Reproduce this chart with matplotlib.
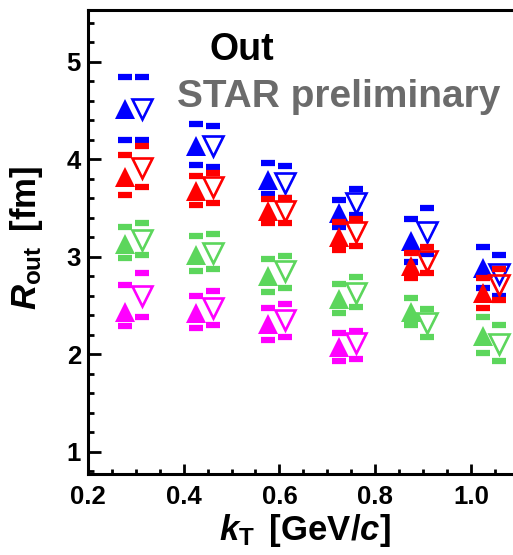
import matplotlib
matplotlib.use("Agg")
import matplotlib.pyplot as plt
from matplotlib.ticker import MultipleLocator

plt.rcParams["font.family"] = "Liberation Sans"
plt.rcParams["font.weight"] = "bold"
plt.rcParams["axes.labelweight"] = "bold"
plt.rcParams["mathtext.fontset"] = "custom"
plt.rcParams["mathtext.rm"] = "Liberation Sans:bold"
plt.rcParams["mathtext.it"] = "Liberation Sans:italic:bold"

# --- Data -----------------------------------------------------------------
kt_filled = [0.277, 0.426, 0.576, 0.725, 0.875, 1.025]
kt_open = [0.312, 0.461, 0.611, 0.760, 0.908, 1.059]

blue_filled = [4.51, 4.13, 3.79, 3.45, 3.16, 2.88]
blue_filled_hi = [4.84, 4.36, 3.96, 3.58, 3.39, 3.10]
blue_filled_lo = [4.20, 3.94, 3.64, 3.30, 2.94, 2.68]
blue_open = [4.51, 4.13, 3.76, 3.55, 3.25, 2.82]
blue_open_hi = [4.84, 4.34, 3.93, 3.69, 3.50, 3.02]
blue_open_lo = [4.20, 3.92, 3.60, 3.43, 3.03, 2.60]

red_filled = [3.82, 3.67, 3.47, 3.20, 2.90, 2.63]
red_filled_hi = [4.04, 3.83, 3.59, 3.36, 3.04, 2.78]
red_filled_lo = [3.63, 3.53, 3.34, 3.07, 2.78, 2.47]
red_open = [3.91, 3.71, 3.47, 3.25, 2.96, 2.71]
red_open_hi = [4.13, 3.86, 3.60, 3.39, 3.10, 2.87]
red_open_lo = [3.71, 3.55, 3.35, 3.11, 2.83, 2.55]

green_filled = [3.13, 3.02, 2.80, 2.57, 2.43, 2.19]
green_filled_hi = [3.30, 3.21, 2.98, 2.72, 2.58, 2.38]
green_filled_lo = [2.99, 2.85, 2.64, 2.42, 2.30, 2.01]
green_open = [3.17, 3.04, 2.85, 2.63, 2.32, 2.10]
green_open_hi = [3.34, 3.23, 3.01, 2.79, 2.46, 2.30]
green_open_lo = [3.02, 2.87, 2.68, 2.48, 2.18, 1.93]

magenta_filled = [2.43, 2.42, 2.31, 2.07]
magenta_filled_hi = [2.71, 2.60, 2.47, 2.22]
magenta_filled_lo = [2.29, 2.27, 2.14, 1.93]
magenta_open = [2.60, 2.47, 2.35, 2.11]
magenta_open_hi = [2.83, 2.65, 2.51, 2.24]
magenta_open_lo = [2.38, 2.30, 2.18, 1.95]

series = [
    ("#0000ff", blue_filled, blue_filled_hi, blue_filled_lo,
     blue_open, blue_open_hi, blue_open_lo),
    ("#ff0000", red_filled, red_filled_hi, red_filled_lo,
     red_open, red_open_hi, red_open_lo),
    ("#5cd65c", green_filled, green_filled_hi, green_filled_lo,
     green_open, green_open_hi, green_open_lo),
    ("#ff00ff", magenta_filled, magenta_filled_hi, magenta_filled_lo,
     magenta_open, magenta_open_hi, magenta_open_lo),
]

# --- Figure --------------------------------------------------------------
fig = plt.figure(figsize=(5.13, 5.55), dpi=100)
ax = fig.add_axes([88 / 513, 1 - 474 / 555, 430.7 / 513, 464 / 555])

bar_kw = dict(ls="none", marker="_", ms=10, mew=4.5)
for color, yf, yf_hi, yf_lo, yo, yo_hi, yo_lo in series:
    n = len(yf)
    xf, xo = kt_filled[:n], kt_open[:n]
    ax.plot(xf, yf_hi, color=color, **bar_kw)
    ax.plot(xf, yf_lo, color=color, **bar_kw)
    ax.plot(xo, yo_hi, color=color, **bar_kw)
    ax.plot(xo, yo_lo, color=color, **bar_kw)
    ax.plot(xf, yf, ls="none", marker="^", ms=14.5, color=color, mew=0)
    ax.plot(xo, yo, ls="none", marker="v", ms=14.5, mfc="none",
            mec=color, mew=1.9)

ax.set_xlim(0.2, 1.1)
ax.set_ylim(0.77, 5.53)
ax.xaxis.set_major_locator(MultipleLocator(0.2))
ax.xaxis.set_minor_locator(MultipleLocator(0.05))
ax.yaxis.set_major_locator(MultipleLocator(1))
ax.yaxis.set_minor_locator(MultipleLocator(0.2))
ax.set_xticks([0.2, 0.4, 0.6, 0.8, 1.0])
ax.set_xticklabels(["0.2", "0.4", "0.6", "0.8", "1.0"])

for side in ax.spines:
    ax.spines[side].set_linewidth(2.2)
ax.tick_params(which="both", direction="in", top=False, right=False,
               width=2.0, labelsize=18.5)
ax.tick_params(axis="x", which="major", length=7.5, pad=8)
ax.tick_params(axis="x", which="minor", length=3.8)
ax.tick_params(axis="y", which="major", length=9, pad=5)
ax.tick_params(axis="y", which="minor", length=4.5)

ax.set_xlabel(r"$\mathit{k}_{\mathrm{T}}\,$ [GeV/$\mathit{c}$]", fontsize=25,
              fontweight="bold")
ax.set_ylabel(r"$\mathit{R}_{\mathrm{out}}\,$ [fm]", fontsize=25,
              fontweight="bold")
# label anchors: top edge of the x label, right edge of the y label
ax.xaxis.set_label_coords((305 - 88) / 430.7, -38 / 464)
ax.yaxis.set_label_coords(-43 / 430.7, (474 - 238) / 464)

fig.text(242 / 513, 1 - 60 / 555, "Out", fontsize=27, color="black",
         ha="center", va="baseline")
fig.text(177 / 513, 1 - 107 / 555, "STAR preliminary", fontsize=28,
         color="#6b6b6b", ha="left", va="baseline")

fig.savefig("out.png", dpi=100)
